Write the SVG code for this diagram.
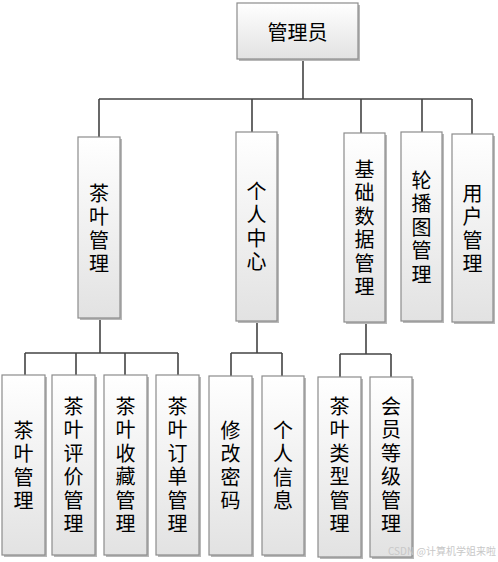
<svg xmlns="http://www.w3.org/2000/svg" width="498" height="562" viewBox="0 0 498 562">
<defs>
<linearGradient id="g" x1="0" y1="0" x2="0" y2="1">
<stop offset="0" stop-color="#ffffff"/>
<stop offset="1" stop-color="#e2e2e2"/>
</linearGradient>
<style>
.sh{fill:#b8b8b8;}
.bx{fill:url(#g);stroke:#8c8c8c;stroke-width:1.2;}
.t{font-family:"Noto Sans CJK SC","Noto Sans",sans-serif;font-size:20px;fill:#000;text-anchor:middle;dominant-baseline:central;}
.v{font-family:"Noto Sans CJK SC","Noto Sans",sans-serif;font-size:20px;fill:#000;text-anchor:middle;writing-mode:vertical-rl;letter-spacing:3.5px;}
.c{fill:none;stroke:#444;stroke-width:1.6;}
.wm{font-family:"Noto Sans CJK SC","Liberation Sans",sans-serif;font-size:10px;fill:#c8c8c8;}
</style>
</defs>
<rect width="498" height="562" fill="#fff"/>
<g id="connectors">
<path class="c" d="M303,59 V99 M99,99 H472 M99,99 V137 M252,99 V135 M361,99 V138 M422,99 V135 M472,99 V134"/>
<path class="c" d="M100,318 V353 M25,353 H178 M25,353 V375 M76,353 V375 M125,353 V375 M178,353 V375"/>
<path class="c" d="M257,321 V353 M231,353 H282 M231,353 V376 M282,353 V376"/>
<path class="c" d="M366,322 V354 M340,354 H391 M340,354 V377 M391,354 V377"/>
</g>
<g id="n0"><rect class="sh" x="239" y="5" width="121" height="56"/><rect class="bx" x="237" y="3" width="121" height="56"/><text class="t" x="297.5" y="31">管理员</text></g>
<g id="n1"><rect class="sh" x="80" y="139" width="42" height="181"/><rect class="bx" x="78" y="137" width="42" height="181"/><text class="v" x="99" y="230">茶叶管理</text></g>
<g id="n2"><rect class="sh" x="238" y="134" width="41" height="189"/><rect class="bx" x="236" y="132" width="41" height="189"/><text class="v" x="256.5" y="228">个人中心</text></g>
<g id="n3"><rect class="sh" x="346" y="135" width="41" height="189"/><rect class="bx" x="344" y="133" width="41" height="189"/><text class="v" x="364.5" y="229.5">基础数据管理</text></g>
<g id="n4"><rect class="sh" x="403" y="134" width="41" height="189"/><rect class="bx" x="401" y="132" width="41" height="189"/><text class="v" x="421.5" y="229">轮播图管理</text></g>
<g id="n5"><rect class="sh" x="454" y="136" width="41" height="188"/><rect class="bx" x="452" y="134" width="41" height="188"/><text class="v" x="472.5" y="230">用户管理</text></g>
<g id="n6"><rect class="sh" x="4" y="377" width="43" height="180"/><rect class="bx" x="2" y="375" width="43" height="180"/><text class="v" x="23.5" y="467">茶叶管理</text></g>
<g id="n7"><rect class="sh" x="54" y="377" width="43" height="180"/><rect class="bx" x="52" y="375" width="43" height="180"/><text class="v" x="73.5" y="466.5">茶叶评价管理</text></g>
<g id="n8"><rect class="sh" x="106" y="377" width="43" height="180"/><rect class="bx" x="104" y="375" width="43" height="180"/><text class="v" x="125.5" y="466.5">茶叶收藏管理</text></g>
<g id="n9"><rect class="sh" x="158" y="377" width="43" height="180"/><rect class="bx" x="156" y="375" width="43" height="180"/><text class="v" x="177.5" y="466.5">茶叶订单管理</text></g>
<g id="n10"><rect class="sh" x="211" y="378" width="43" height="179"/><rect class="bx" x="209" y="376" width="43" height="179"/><text class="v" x="230.5" y="467">修改密码</text></g>
<g id="n11"><rect class="sh" x="264" y="378" width="42" height="179"/><rect class="bx" x="262" y="376" width="42" height="179"/><text class="v" x="283" y="467">个人信息</text></g>
<g id="n12"><rect class="sh" x="320" y="379" width="43" height="180"/><rect class="bx" x="318" y="377" width="43" height="180"/><text class="v" x="339.5" y="466.5">茶叶类型管理</text></g>
<g id="n13"><rect class="sh" x="372" y="379" width="42" height="180"/><rect class="bx" x="370" y="377" width="42" height="180"/><text class="v" x="391" y="466.5">会员等级管理</text></g>
<text class="wm" x="388" y="555">CSDN @计算机学姐来啦</text>
</svg>
